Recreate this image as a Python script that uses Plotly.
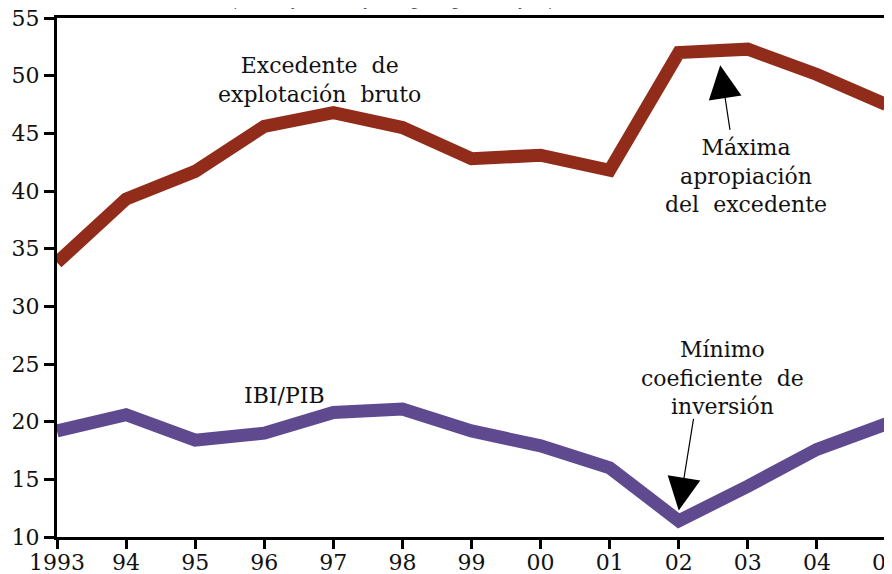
import plotly.graph_objects as go

years = [1993, 1994, 1995, 1996, 1997, 1998, 1999, 2000, 2001, 2002, 2003, 2004, 2005]
tick_labels = ["1993", "94", "95", "96", "97", "98", "99", "00", "01", "02", "03", "04", "05"]
excedente = [33.8, 39.3, 41.7, 45.6, 46.8, 45.5, 42.8, 43.1, 41.8, 52.0, 52.3, 50.1, 47.5]
ibi_pib = [19.2, 20.6, 18.4, 19.0, 20.8, 21.1, 19.2, 17.9, 16.0, 11.4, 14.4, 17.6, 19.8]
y_ticks = [10, 15, 20, 25, 30, 35, 40, 45, 50, 55]

RED = "#922c1a"
PURPLE = "#5f4a90"
FONT = "DejaVu Serif"

fig = go.Figure()
fig.add_trace(go.Scatter(x=years, y=excedente, mode="lines",
                         line=dict(color=RED, width=13), showlegend=False))
fig.add_trace(go.Scatter(x=years, y=ibi_pib, mode="lines",
                         line=dict(color=PURPLE, width=13), showlegend=False))

ann_font = dict(family=FONT, size=22, color="#111111")
fig.add_annotation(x=1996.8, y=49.6, text="Excedente  de<br>explotación  bruto",
                   showarrow=False, font=ann_font, align="center")
fig.add_annotation(x=2002.97, y=41.3, text="Máxima<br>apropiación<br>del  excedente",
                   showarrow=False, font=ann_font, align="center")
fig.add_annotation(x=1996.3, y=22.3, text="IBI/PIB",
                   showarrow=False, font=ann_font, align="center")
fig.add_annotation(x=2002.63, y=23.8, text="Mínimo<br>coeficiente  de<br>inversión",
                   showarrow=False, font=ann_font, align="center")
# arrows
fig.add_annotation(x=2002.6, y=50.9, ax=10, ay=66, text="", showarrow=True,
                   arrowhead=2, arrowsize=5.5, arrowwidth=1.2, arrowcolor="black")
fig.add_annotation(x=2002.0, y=12.3, ax=15, ay=-93, text="", showarrow=True,
                   arrowhead=2, arrowsize=5.5, arrowwidth=1.2, arrowcolor="black")
# clipped subtitle at the very top
fig.add_annotation(xref="paper", yref="paper", x=0.42, y=1, yanchor="bottom", yshift=7,
                   text="(en porcentajes del PIB y del ingreso generado y disponible)",
                   showarrow=False, font=dict(family="Noto Sans", size=14, color="#555555"))

fig.update_xaxes(range=[1993, 2005], tickmode="array", tickvals=years, ticktext=tick_labels,
                 showgrid=False, zeroline=False, showline=True, linecolor="black", linewidth=3,
                 mirror=True, ticks="outside", ticklen=9, tickwidth=3, tickcolor="black",
                 automargin=False, ticklabeloverflow="allow", ticklabelstandoff=-5,
                 tickfont=dict(family=FONT, size=22, color="#111111"))
fig.update_yaxes(range=[10, 55], tickmode="array", tickvals=y_ticks,
                 showgrid=False, zeroline=False, showline=True, linecolor="black", linewidth=3,
                 mirror=True, ticks="outside", ticklen=10, tickwidth=3, tickcolor="black",
                 automargin=False, ticklabeloverflow="allow",
                 tickfont=dict(family=FONT, size=22, color="#111111"))

# page body has an 8px margin, so the figure is 884x566 with offsets compensated
fig.update_layout(width=884, height=566, margin=dict(l=49, r=6, t=10, b=37),
                  plot_bgcolor="white", paper_bgcolor="white")
fig.write_html("out.html")
